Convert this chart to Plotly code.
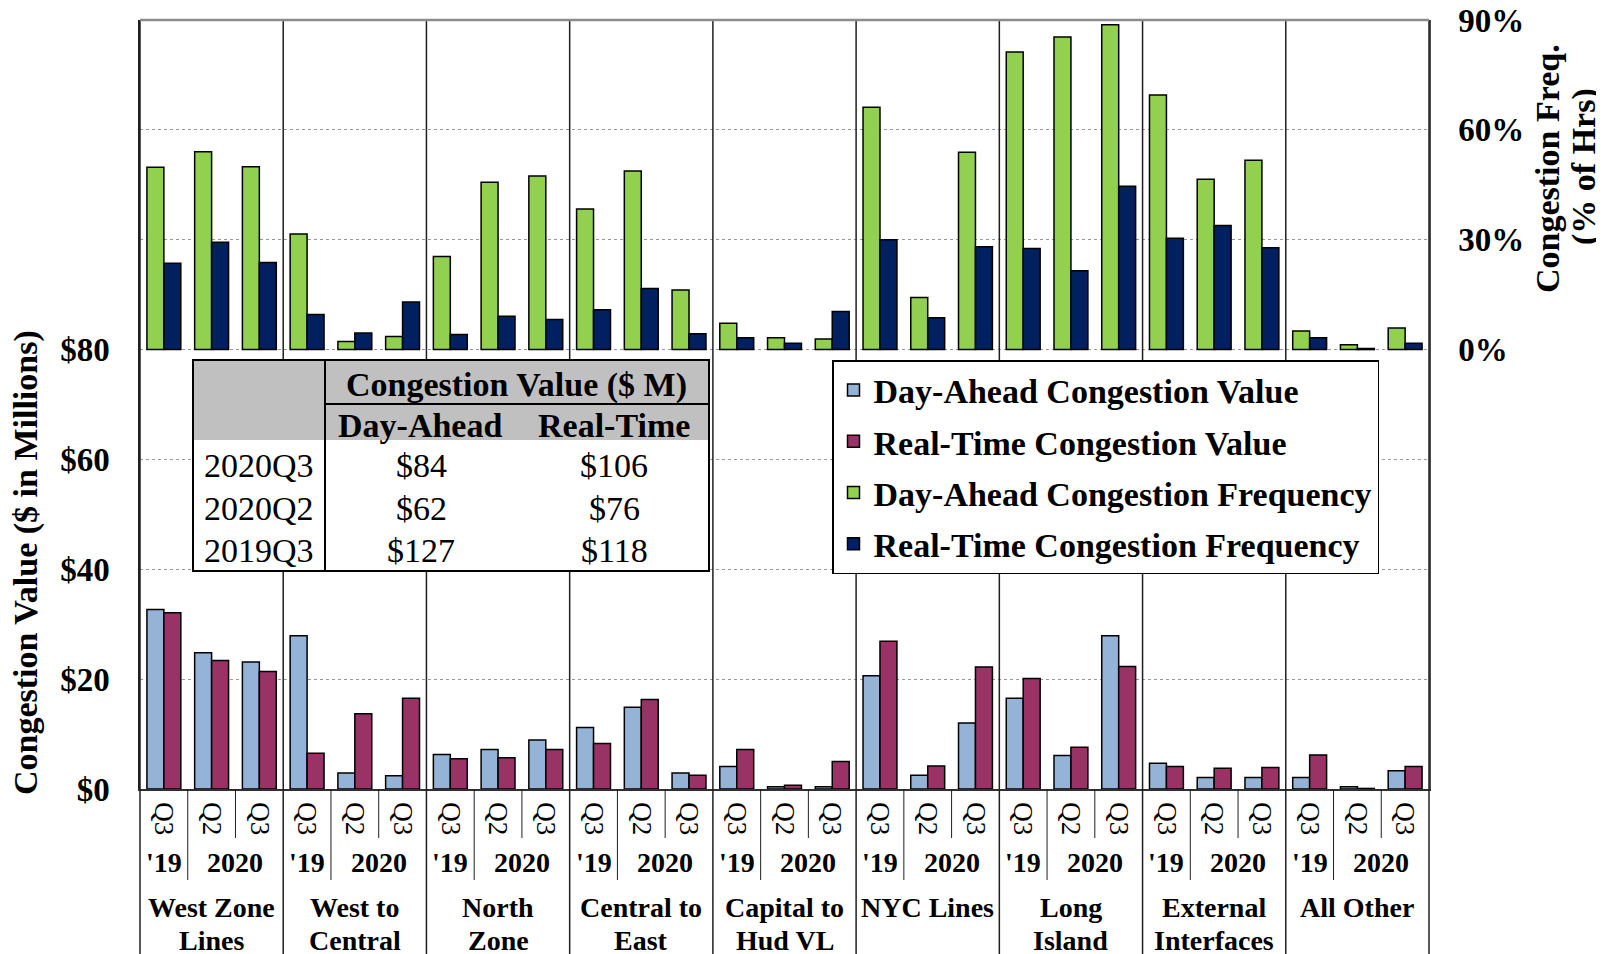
import plotly.graph_objects as go

# ---------------- data ----------------
groups = ["West Zone<br>Lines", "West to<br>Central", "North<br>Zone", "Central to<br>East",
          "Capital to<br>Hud VL", "NYC Lines", "Long<br>Island", "External<br>Interfaces", "All Other"]
periods = ["Q3", "Q2", "Q3"]
years = ["'19", "2020"]

da_value = [32.7, 24.8, 23.1, 27.9, 2.9, 2.4, 6.3, 7.2, 8.9, 11.2, 14.9, 2.9, 4.1, 0.4, 0.4,
            20.6, 2.5, 12.0, 16.5, 6.1, 27.9, 4.7, 2.1, 2.1, 2.1, 0.4, 3.3]
rt_value = [32.1, 23.4, 21.4, 6.5, 13.7, 16.5, 5.5, 5.7, 7.2, 8.3, 16.3, 2.5, 7.2, 0.7, 5.0,
            26.9, 4.2, 22.2, 20.1, 7.6, 22.3, 4.1, 3.8, 3.9, 6.2, 0.1, 4.1]
da_freq = [49.8, 54.0, 49.9, 31.6, 2.2, 3.6, 25.4, 45.7, 47.4, 38.4, 48.8, 16.3, 7.2, 3.2, 2.9,
           66.2, 14.2, 53.9, 81.3, 85.4, 88.7, 69.5, 46.5, 51.7, 5.1, 1.3, 5.9]
rt_freq = [23.6, 29.3, 23.8, 9.6, 4.5, 13.0, 4.1, 9.1, 8.2, 10.9, 16.7, 4.3, 3.2, 1.7, 10.4,
           30.0, 8.7, 28.1, 27.6, 21.5, 44.6, 30.4, 33.9, 27.8, 3.2, 0.3, 1.7]

value_ticks = [0, 20, 40, 60, 80]
freq_ticks = [0, 30, 60, 90]

table_header = "Congestion Value ($ M)"
table_cols = ["Day-Ahead", "Real-Time"]
table_rows = ["2020Q3", "2020Q2", "2019Q3"]
table_da = ["$84", "$62", "$127"]
table_rt = ["$106", "$76", "$118"]

# ---------------- layout helpers ----------------
OFF = 8                      # default page body margin
W, H = 1604 - OFF, 954 - OFF
L, R, T, B = 140 - OFF, 175, 20 - OFF, 165
PW, PH = W - L - R, H - T - B
FONT = "Liberation Serif, Times New Roman, serif"
ng, npg = len(groups), len(periods)
n = ng * npg
xs = list(range(n))


def px(xpix):
    return (xpix - OFF - L) / PW


def py(ypix):
    return (H - B - (ypix - OFF)) / PH


BW = 0.355
line = dict(color="black", width=1.5)
fig = go.Figure()
fig.add_trace(go.Bar(x=xs, y=da_value, name="Day-Ahead Congestion Value", width=BW, offset=-BW,
                     marker=dict(color="#95B3D7", line=line), yaxis="y", legendgroup="a"))
fig.add_trace(go.Bar(x=xs, y=rt_value, name="Real-Time Congestion Value", width=BW, offset=0,
                     marker=dict(color="#993366", line=line), yaxis="y", legendgroup="b"))
fig.add_trace(go.Bar(x=xs, y=da_freq, name="Day-Ahead Congestion Frequency", width=BW, offset=-BW,
                     marker=dict(color="#92D050", line=line), yaxis="y2", legendgroup="c"))
fig.add_trace(go.Bar(x=xs, y=rt_freq, name="Real-Time Congestion Frequency", width=BW, offset=0,
                     marker=dict(color="#002060", line=line), yaxis="y2", legendgroup="d"))

shapes = []
# group separators (full height, down to figure bottom)
for k in range(ng + 1):
    shapes.append(dict(type="line", xref="paper", yref="paper", x0=k / ng, x1=k / ng,
                       y0=1, y1=py(960), line=dict(color="#202020", width=1.5), layer="above"))
    if k < ng:
        shapes.append(dict(type="line", xref="paper", yref="paper",
                           x0=(3 * k + 1) / n, x1=(3 * k + 1) / n, y0=0, y1=py(880),
                           line=dict(color="#202020", width=1), layer="above"))
        shapes.append(dict(type="line", xref="paper", yref="paper",
                           x0=(3 * k + 2) / n, x1=(3 * k + 2) / n, y0=0, y1=py(838),
                           line=dict(color="#202020", width=1), layer="above"))
# top border
shapes.append(dict(type="line", xref="paper", yref="paper", x0=0, x1=1, y0=1, y1=1,
                   line=dict(color="#8c8c8c", width=2.5), layer="above"))

# table
tx0, tx1, ty0, ty1 = 193, 709, 360, 571
tdiv, thl, tgray = 325, 404, 440
shapes += [
    dict(type="rect", xref="paper", yref="paper", x0=px(tx0), x1=px(tx1), y0=py(ty0), y1=py(ty1),
         fillcolor="white", line=dict(width=0), layer="above"),
    dict(type="rect", xref="paper", yref="paper", x0=px(tx0), x1=px(tx1), y0=py(ty0), y1=py(tgray),
         fillcolor="#C0C0C0", line=dict(width=0), layer="above"),
    dict(type="line", xref="paper", yref="paper", x0=px(tdiv), x1=px(tdiv), y0=py(ty0), y1=py(ty1),
         line=dict(color="black", width=2), layer="above"),
    dict(type="line", xref="paper", yref="paper", x0=px(tdiv), x1=px(tx1), y0=py(thl), y1=py(thl),
         line=dict(color="black", width=2), layer="above"),
    dict(type="rect", xref="paper", yref="paper", x0=px(tx0), x1=px(tx1), y0=py(ty0), y1=py(ty1),
         fillcolor="rgba(0,0,0,0)", line=dict(color="black", width=2), layer="above"),
]

ann = []
bold = dict(family=FONT, size=34, color="black", weight="bold")
reg = dict(family=FONT, size=34, color="black")
ann.append(dict(text=table_header, xref="paper", yref="paper", x=px(517), y=py(385),
                showarrow=False, font=bold, xanchor="center", yanchor="middle"))
for cx, t in zip([420, 614], table_cols):
    ann.append(dict(text=t, xref="paper", yref="paper", x=px(cx), y=py(425),
                    showarrow=False, font=bold, xanchor="center", yanchor="middle"))
for ry, r, a, b in zip([466, 508, 550], table_rows, table_da, table_rt):
    for cx, t in zip([259, 421, 614], [r, a, b]):
        ann.append(dict(text=t, xref="paper", yref="paper", x=px(cx), y=py(ry),
                        showarrow=False, font=reg, xanchor="center", yanchor="middle"))

# bottom category labels
lab = dict(family=FONT, size=28, color="black", weight="bold")
for k, g in enumerate(groups):
    ann.append(dict(text=years[0], x=3 * k, xref="x", y=py(862), yref="paper",
                    showarrow=False, font=lab, xanchor="center", yanchor="middle"))
    ann.append(dict(text=years[1], x=3 * k + 1.5, xref="x", y=py(862), yref="paper",
                    showarrow=False, font=lab, xanchor="center", yanchor="middle"))
    for j, part in enumerate(g.split("<br>")):
        ann.append(dict(text=part, x=3 * k + 1, xref="x", y=py(907 + 33 * j), yref="paper",
                        showarrow=False, font=lab, xanchor="center", yanchor="middle"))

# axis titles
ann.append(dict(text="Congestion Value ($ in Millions)", xref="paper", yref="paper",
                x=px(26), y=py(563), textangle=-90, showarrow=False, font=bold,
                xanchor="center", yanchor="middle"))
ann.append(dict(text="Congestion Freq.", xref="paper", yref="paper",
                x=px(1547), y=py(169), textangle=-90, showarrow=False, font=bold,
                xanchor="center", yanchor="middle"))
ann.append(dict(text="(% of Hrs)", xref="paper", yref="paper",
                x=px(1584), y=py(167), textangle=-90, showarrow=False, font=bold,
                xanchor="center", yanchor="middle"))

fig.update_layout(
    width=W, height=H,
    margin=dict(l=L, r=R, t=T, b=B, pad=0, autoexpand=False),
    paper_bgcolor="white", plot_bgcolor="white",
    barmode="overlay",
    font=dict(family=FONT, color="black"),
    xaxis=dict(range=[-0.5, n - 0.5], tickmode="array", tickvals=xs, ticktext=periods * ng,
               tickangle=90, tickfont=dict(family=FONT, size=27, color="black"),
               showgrid=False, zeroline=False, showline=True, linecolor="#303030", linewidth=1.5,
               ticks="", ticklabelstandoff=6, fixedrange=True, automargin=False,
               ticklabeloverflow="allow"),
    yaxis=dict(range=[0, 140], tickmode="array", tickvals=value_ticks,
               ticktext=["$" + str(v) for v in value_ticks],
               tickfont=dict(family=FONT, size=33, color="black", weight="bold"),
               showgrid=True, gridcolor="#9a9a9a", griddash="dot", gridwidth=1,
               zeroline=False, showline=True, linecolor="#202020", linewidth=1.5,
               ticks="", ticklabelstandoff=22, automargin=False, ticklabeloverflow="allow"),
    yaxis2=dict(range=[-120, 90.01], overlaying="y", side="right", tickmode="array",
                tickvals=freq_ticks, ticktext=[str(v) + "%" for v in freq_ticks],
                tickfont=dict(family=FONT, size=33, color="black", weight="bold"),
                showgrid=True, gridcolor="#9a9a9a", griddash="dot", gridwidth=1,
                zeroline=False, showline=True, linecolor="#505050", linewidth=1.5,
                ticks="", ticklabelstandoff=21, automargin=False, ticklabeloverflow="allow"),
    legend=dict(x=px(832), y=py(360), xanchor="left", yanchor="top",
                bgcolor="white", bordercolor="black", borderwidth=1.5,
                font=dict(family=FONT, size=34, color="black", weight="bold"),
                tracegroupgap=4, traceorder="grouped"),
    shapes=shapes, annotations=ann,
)

fig.write_html("out.html")
